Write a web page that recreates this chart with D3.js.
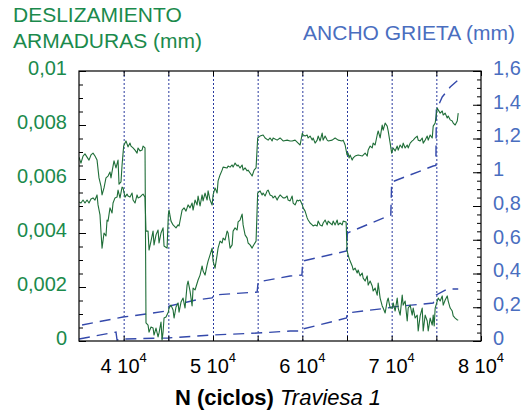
<!DOCTYPE html>
<html><head><meta charset="utf-8">
<script src="https://cdn.jsdelivr.net/npm/d3@7"></script>
<style>
body{margin:0;background:#fff}
svg{display:block}
text{font-family:"Liberation Sans",Arial,Helvetica,sans-serif}
</style>
</head><body>
<svg width="526" height="419"></svg>
<script>
// ---------- DATA ----------
const cyclesS1 = [35000,35220,35450,35670,35900,36120,36340,36570,36790,37020,37240,37460,37580,37800,38020,38250,38470,38580,38810,38920,39140,39370,39480,39700,39820,40000,40150,40260,40490,40710,40820,41050,41270,41500,41610,41830,42060,42170,42390,
42500,42730,42840,43060,43290,43400,43620,43850,43960,44180,44300,44410,44520,44740,45000,45080,45300,45530,45640,45860,46090,46200,46420,46650,46870,47100,47210,47430,47660,47770,47990,48330,48550,48780,48890,49110,49340,49450,49670,49900,50010,50230,50460,50570,50790,51020,51130,51350,51580,51690,51910,52140,52250,52470,52700,52810,53030,53260,53370,53590,53820,53930,54150,54380,54490,54820,
55000,55270,55500,55610,55830,56060,56170,56390,56620,56730,56950,57180,57290,57510,57850,58070,58300,58410,58630,58860,58970,59190,59420,59530,59750,
60000,60090,60310,60540,60650,60870,61100,61210,61430,61660,61770,61990,62220,62330,62550,62780,62890,63110,63340,63450,63670,63900,64010,64230,64460,64570,64900,
65000,65120,65230,65350,65580,65690,65910,66140,66250,66470,66700,66810,67030,67260,67370,67590,67820,67930,68150,68380,68490,68710,68940,69050,69270,69500,69610,69830,70060,70170,70390,70620,70730,70950,71180,71290,71510,71740,71850,72070,72300,72410,72630,72860,72970,73190,73420,73530,73750,73980,74090,74310,74540,74650,74760,74870,75100,75210,75430,75660,75770,75990,76220,76330,76550,76780,76890,77110,77340,77450];
const slipS1 = [0.00681,0.00659,0.00685,0.00693,0.00681,0.00670,0.00689,0.00696,0.00685,0.00670,0.00604,0.00574,0.00541,0.00567,0.00604,0.00611,0.00626,0.00604,0.00648,0.00667,0.00641,0.00670,0.00581,0.00589,0.00652,0.00722,0.00733,0.00741,0.00719,0.00733,0.00722,0.00715,0.00707,0.00696,0.00715,0.00704,0.00707,0.00722,0.00715,
0.00067,0.00059,0.00033,0.00052,0.00048,0.00022,0.00048,0.00015,0.00030,0.00070,0.00004,0.00033,0.00085,0.00089,0.00107,0.00122,0.00133,0.00115,0.00085,0.00126,0.00141,0.00107,0.00144,0.00159,0.00122,0.00207,0.00222,0.00185,0.00130,0.00196,0.00189,0.00226,0.00244,0.00278,0.00259,0.00244,0.00281,0.00296,0.00319,0.00344,0.00296,0.00270,0.00319,0.00344,0.00370,0.00363,0.00381,0.00374,0.00407,0.00400,0.00344,0.00356,0.00407,0.00419,0.00411,0.00441,0.00448,0.00470,0.00430,0.00393,0.00381,0.00363,0.00356,0.00344,0.00352,0.00370,
0.00548,0.00556,0.00541,0.00548,0.00537,0.00556,0.00559,0.00541,0.00537,0.00530,0.00537,0.00522,0.00530,0.00541,0.00530,0.00530,0.00537,0.00522,0.00519,0.00537,0.00511,0.00504,0.00522,0.00519,0.00522,
0.00504,0.00493,0.00481,0.00456,0.00448,0.00437,0.00430,0.00426,0.00430,0.00426,0.00444,0.00430,0.00426,0.00437,0.00448,0.00430,0.00444,0.00437,0.00430,0.00444,0.00430,0.00448,0.00430,0.00437,0.00430,0.00444,0.00441,
0.00337,0.00319,0.00307,0.00296,0.00278,0.00263,0.00270,0.00252,0.00263,0.00241,0.00252,0.00233,0.00222,0.00241,0.00207,0.00222,0.00204,0.00185,0.00196,0.00170,0.00215,0.00159,0.00130,0.00122,0.00104,0.00148,0.00159,0.00122,0.00122,0.00141,0.00111,0.00159,0.00122,0.00096,0.00170,0.00133,0.00148,0.00074,0.00122,0.00133,0.00096,0.00122,0.00085,0.00096,0.00037,0.00093,0.00122,0.00037,0.00096,0.00074,0.00037,0.00085,0.00059,0.00096,0.00056,0.00122,0.00148,0.00159,0.00148,0.00167,0.00133,0.00152,0.00167,0.00148,0.00122,0.00111,0.00093,0.00085,0.00078,0.00078];

const cyclesS2 = [35000,35220,35450,35670,35900,36120,36340,36570,36790,37020,37130,37350,37460,37580,37800,38020,38140,38250,38470,38700,38810,39030,39260,39370,39590,39820,39930,40150,40380,40490,40710,40940,41050,41270,41500,41610,41830,42060,42170,42390,
42500,42730,42840,43060,43290,43400,43620,43850,43960,44180,44410,44520,44860,
45000,45080,45300,45530,45860,46090,46200,46540,46760,46980,47210,47430,47660,47770,47990,48220,48330,48550,48780,48890,49110,49340,49450,49670,49900,50010,50230,50460,50570,50790,51020,51130,51580,51690,51910,52140,52250,52470,52700,52810,53030,53260,53370,53590,53820,53930,54150,54380,54600,54820,
55000,55270,55610,55830,56170,56390,56620,56730,57180,57510,57850,58300,58630,58860,59190,59530,59750,
60000,60090,60310,60540,60650,60870,61100,61210,61430,61660,61770,61990,62220,62330,62550,62780,62890,63340,63670,64010,64460,64570,64790,
65000,65120,65230,65350,65580,65690,65910,66250,66700,67030,67260,67370,67590,67820,67930,68150,68380,68490,68710,68940,69050,69270,69500,69610,69830,
70000,70170,70390,70620,70730,70950,71180,71290,71510,71740,71850,72070,72300,72410,72630,72860,72970,73190,73420,73530,73750,73980,74090,74310,74540,74650,74870,
75100,75210,75430,75660,75770,75990,76220,76330,76550,76780,76890,77110,77340,77450];
const slipS2 = [0.00515,0.00511,0.00522,0.00511,0.00522,0.00511,0.00526,0.00530,0.00522,0.00541,0.00504,0.00467,0.00404,0.00344,0.00400,0.00389,0.00448,0.00444,0.00493,0.00474,0.00511,0.00530,0.00533,0.00559,0.00530,0.00570,0.00567,0.00533,0.00544,0.00537,0.00533,0.00548,0.00522,0.00511,0.00541,0.00530,0.00533,0.00541,0.00544,0.00533,
0.00407,0.00407,0.00337,0.00370,0.00407,0.00356,0.00393,0.00411,0.00363,0.00400,0.00419,0.00352,0.00344,
0.00467,0.00485,0.00444,0.00430,0.00419,0.00430,0.00426,0.00485,0.00493,0.00481,0.00504,0.00493,0.00511,0.00485,0.00522,0.00504,0.00537,0.00500,0.00541,0.00519,0.00548,0.00522,0.00556,0.00522,0.00504,0.00541,0.00567,0.00548,0.00593,0.00615,0.00633,0.00644,0.00641,0.00648,0.00644,0.00652,0.00644,0.00659,0.00648,0.00652,0.00641,0.00652,0.00633,0.00641,0.00630,0.00633,0.00622,0.00611,0.00633,0.00641,
0.00752,0.00759,0.00763,0.00752,0.00744,0.00752,0.00741,0.00752,0.00744,0.00752,0.00741,0.00744,0.00741,0.00741,0.00744,0.00733,0.00726,
0.00770,0.00763,0.00759,0.00763,0.00752,0.00759,0.00744,0.00752,0.00733,0.00744,0.00759,0.00741,0.00770,0.00744,0.00759,0.00744,0.00741,0.00744,0.00752,0.00744,0.00741,0.00744,0.00726,
0.00689,0.00696,0.00678,0.00689,0.00670,0.00678,0.00685,0.00689,0.00685,0.00696,0.00685,0.00707,0.00722,0.00715,0.00733,0.00726,0.00763,0.00778,0.00752,0.00800,0.00781,0.00807,0.00796,0.00778,0.00733,
0.00696,0.00715,0.00704,0.00722,0.00707,0.00726,0.00715,0.00733,0.00715,0.00726,0.00715,0.00733,0.00741,0.00744,0.00752,0.00759,0.00744,0.00741,0.00752,0.00733,0.00744,0.00759,0.00744,0.00763,0.00752,0.00796,0.00807,
0.00863,0.00856,0.00844,0.00852,0.00837,0.00844,0.00826,0.00833,0.00819,0.00815,0.00807,0.00800,0.00815,0.00844];

const cyclesW1 = [35340,39930,42500,44860,45080,48100,49900,50120,54940,55050,58630,59950,60050,64950,65050,69610,69900,70000,74650,74950,75000,75660,76550,77450];
const crackW1  = [0.095,0.142,0.160,0.178,0.207,0.243,0.255,0.273,0.290,0.350,0.385,0.391,0.474,0.533,0.640,0.741,0.745,0.942,1.037,1.040,1.369,1.446,1.505,1.547];

const cyclesW2 = [35000,39140,39260,40040,44970,50010,54940,58630,59950,60050,64950,65050,69610,69940,74650,75000,76220,77450];
const crackW2  = [0.012,0.053,0.006,0.012,0.018,0.036,0.047,0.059,0.059,0.071,0.136,0.166,0.196,0.201,0.225,0.273,0.308,0.308];

const blockBoundaries = [40000,45000,50000,55000,60000,65000,70000,75000];
const xTickValues = [40000,50000,60000,70000,80000];
const xTickLabels = [["4 10","4"],["5 10","4"],["6 10","4"],["7 10","4"],["8 10","4"]];
const leftTickValues = [0,0.002,0.004,0.006,0.008,0.01];
const leftTickLabels = ["0","0,002","0,004","0,006","0,008","0,01"];
const rightTickValues = [0,0.2,0.4,0.6,0.8,1,1.2,1.4,1.6];
const rightTickLabels = ["0","0,2","0,4","0,6","0,8","1","1,2","1,4","1,6"];

// ---------- CHART ----------
const M = {left:79, right:481, top:71, bottom:341};
const GREEN_TXT = "#1b8a4c", BLUE_TXT = "#4a6ebf";
const GREEN_LN = "#1f6e38", BLUE_LN = "#3449ab";
const svg = d3.select("svg");
const x  = d3.scaleLinear().domain([35000,80000]).range([M.left,M.right]);
const yL = d3.scaleLinear().domain([0,0.01]).range([M.bottom,M.top]);
const yR = d3.scaleLinear().domain([0,1.6]).range([M.bottom,M.top]);

svg.append("defs").append("clipPath").attr("id","clip").append("rect")
  .attr("x",M.left).attr("y",M.top).attr("width",M.right-M.left).attr("height",M.bottom-M.top);

// block boundary dotted lines
svg.append("g").selectAll("line").data(blockBoundaries).join("line")
  .attr("x1",d=>x(d)+0.5).attr("x2",d=>x(d)+0.5)
  .attr("y1",M.top).attr("y2",M.bottom)
  .attr("stroke","#2a3a9e").attr("stroke-width",1).attr("stroke-dasharray","2,2");

const plot = svg.append("g").attr("clip-path","url(#clip)");
const lineR = d3.line().x(d=>x(d[0])).y(d=>yR(d[1]));
const lineL = d3.line().x(d=>x(d[0])).y(d=>yL(d[1]));

[[cyclesW1,crackW1],[cyclesW2,crackW2]].forEach(([c,v])=>{
  plot.append("path").datum(d3.zip(c,v)).attr("d",lineR)
    .attr("fill","none").attr("stroke",BLUE_LN).attr("stroke-width",1.4)
    .attr("stroke-dasharray","11,7");
});
[[cyclesS1,slipS1],[cyclesS2,slipS2]].forEach(([c,v])=>{
  plot.append("path").datum(d3.zip(c,v)).attr("d",lineL)
    .attr("fill","none").attr("stroke",GREEN_LN).attr("stroke-width",1.1)
    .attr("stroke-linejoin","round");
});

// axes (ticks inside)
const leftMinor = d3.range(0,21).map(i=>i*0.0005);
const rightMinor = d3.range(0,33).map(i=>i*0.05);
const xMinor = d3.range(40000,80001,5000);

function clean(g){ g.select(".domain").remove(); g.selectAll("line").attr("stroke","#000"); }

svg.append("g").attr("transform",`translate(${M.left},0)`)
  .call(d3.axisLeft(yL).tickValues(leftMinor).tickSize(-4).tickFormat("")).call(clean);
svg.append("g").attr("transform",`translate(${M.left},0)`)
  .call(d3.axisLeft(yL).tickValues(leftTickValues).tickSize(-7).tickPadding(12)
        .tickFormat((d,i)=>leftTickLabels[i]))
  .call(clean)
  .call(g=>g.selectAll("text").attr("fill",GREEN_TXT).attr("font-size",20)
        .attr("y",-3).attr("font-family","Liberation Sans, Arial, sans-serif"));

svg.append("g").attr("transform",`translate(${M.right},0)`)
  .call(d3.axisRight(yR).tickValues(rightMinor).tickSize(-4).tickFormat("")).call(clean);
svg.append("g").attr("transform",`translate(${M.right},0)`)
  .call(d3.axisRight(yR).tickValues(rightTickValues).tickSize(-8).tickPadding(12)
        .tickFormat((d,i)=>rightTickLabels[i]))
  .call(clean)
  .call(g=>g.selectAll("text").attr("fill",BLUE_TXT).attr("font-size",20)
        .attr("y",-3).attr("font-family","Liberation Sans, Arial, sans-serif"));

svg.append("g").attr("transform",`translate(0,${M.bottom})`)
  .call(d3.axisBottom(x).tickValues(xMinor).tickSize(-5).tickFormat("")).call(clean);
svg.append("g").attr("transform",`translate(0,${M.top})`)
  .call(d3.axisTop(x).tickValues(xMinor).tickSize(-5).tickFormat("")).call(clean);

// frame
svg.append("rect").attr("x",M.left).attr("y",M.top)
  .attr("width",M.right-M.left).attr("height",M.bottom-M.top)
  .attr("fill","none").attr("stroke","#000").attr("stroke-width",1.2);

// x tick labels with superscript
const xl = svg.append("g").selectAll("text").data(xTickValues).join("text")
  .attr("x",d=>x(d)).attr("y",373).attr("text-anchor","middle")
  .attr("font-size",20).attr("fill","#000");
xl.append("tspan").text((d,i)=>xTickLabels[i][0]);
xl.append("tspan").attr("dy",-11).attr("font-size",13).text((d,i)=>xTickLabels[i][1]);

// axis titles
svg.append("text").attr("x",13).attr("y",22).attr("font-size",21).attr("fill",GREEN_TXT).text("DESLIZAMIENTO");
svg.append("text").attr("x",13).attr("y",48).attr("font-size",21).attr("fill",GREEN_TXT).text("ARMADURAS (mm)");
svg.append("text").attr("x",515).attr("y",40).attr("text-anchor","end").attr("font-size",21).attr("fill",BLUE_TXT).text("ANCHO GRIETA (mm)");

const xt = svg.append("text").attr("x",278).attr("y",405).attr("text-anchor","middle").attr("font-size",22).attr("fill","#000");
xt.append("tspan").attr("font-weight","bold").text("N (ciclos)");
xt.append("tspan").attr("font-style","italic").text(" Traviesa 1");
</script>
</body></html>
